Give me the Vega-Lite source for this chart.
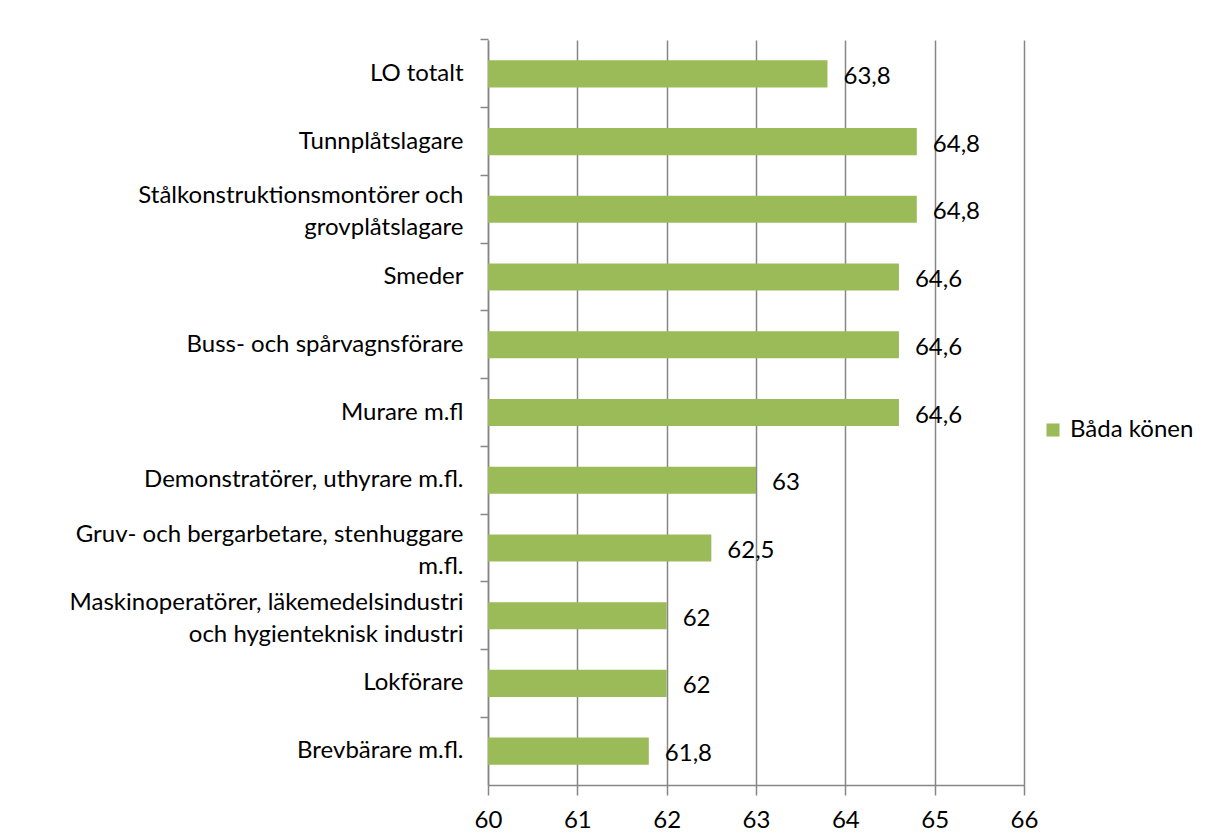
{
  "$schema": "https://vega.github.io/schema/vega-lite/v6.json",
  "width": 536,
  "height": 745,
  "autosize": {"type": "none"},
  "padding": {"left": 488, "top": 40, "right": 185, "bottom": 51},
  "background": "white",
  "config": {
    "view": {"stroke": null},
    "font": "Lato",
    "locale": {"number": {"decimal": ",", "thousands": " ", "grouping": [3], "currency": ["", " kr"]}}
  },
  "data": {
    "values": [
      {"yrke": "LO totalt", "varde": 63.8, "serie": "Båda könen"},
      {"yrke": "Tunnplåtslagare", "varde": 64.8, "serie": "Båda könen"},
      {"yrke": "Stålkonstruktionsmontörer och grovplåtslagare", "varde": 64.8, "serie": "Båda könen"},
      {"yrke": "Smeder", "varde": 64.6, "serie": "Båda könen"},
      {"yrke": "Buss- och spårvagnsförare", "varde": 64.6, "serie": "Båda könen"},
      {"yrke": "Murare m.fl", "varde": 64.6, "serie": "Båda könen"},
      {"yrke": "Demonstratörer, uthyrare m.fl.", "varde": 63, "serie": "Båda könen"},
      {"yrke": "Gruv- och bergarbetare, stenhuggare m.fl.", "varde": 62.5, "serie": "Båda könen"},
      {"yrke": "Maskinoperatörer, läkemedelsindustri och hygienteknisk industri", "varde": 62, "serie": "Båda könen"},
      {"yrke": "Lokförare", "varde": 62, "serie": "Båda könen"},
      {"yrke": "Brevbärare m.fl.", "varde": 61.8, "serie": "Båda könen"}
    ]
  },
  "layer": [
    {
      "mark": {"type": "bar", "height": {"band": 0.4}},
      "encoding": {
        "x": {
          "field": "varde",
          "type": "quantitative",
          "scale": {"domain": [60, 66], "zero": false, "nice": false},
          "axis": {
            "title": null,
            "values": [60, 61, 62, 63, 64, 65, 66],
            "format": "d",
            "grid": true,
            "gridColor": "#868686",
            "gridWidth": 1.5,
            "domainColor": "#868686",
            "domainWidth": 1.5,
            "tickColor": "#868686",
            "tickWidth": 1.5,
            "tickSize": 10,
            "labelFlush": false,
            "labelPadding": 13,
            "labelFontSize": 24,
            "labelColor": "#000000",
            "labelFont": "Lato"
          }
        },
        "x2": {"datum": 60},
        "y": {
          "field": "yrke",
          "type": "nominal",
          "sort": null,
          "scale": {"paddingInner": 0, "paddingOuter": 0},
          "axis": {
            "title": null,
            "bandPosition": 0,
            "labelOffset": {
              "condition": {
                "test": "datum.value == 'Stålkonstruktionsmontörer och grovplåtslagare' || datum.value == 'Gruv- och bergarbetare, stenhuggare m.fl.' || datum.value == 'Maskinoperatörer, läkemedelsindustri och hygienteknisk industri'",
                "value": -13
              },
              "value": 0
            },
            "domainColor": "#868686",
            "domainWidth": 1.5,
            "tickColor": "#868686",
            "tickWidth": 1.5,
            "tickSize": 8,
            "labelPadding": 17,
            "labelFontSize": 24,
            "labelColor": "#000000",
            "labelFont": "Lato",
            "labelLimit": 480,
            "labelLineHeight": 32,
            "labelExpr": "datum.label == 'Stålkonstruktionsmontörer och grovplåtslagare' ? ['Stålkonstruktionsmontörer och', 'grovplåtslagare'] : datum.label == 'Gruv- och bergarbetare, stenhuggare m.fl.' ? ['Gruv- och bergarbetare, stenhuggare', 'm.fl.'] : datum.label == 'Maskinoperatörer, läkemedelsindustri och hygienteknisk industri' ? ['Maskinoperatörer, läkemedelsindustri', 'och hygienteknisk industri'] : datum.label"
          }
        },
        "color": {
          "field": "serie",
          "type": "nominal",
          "scale": {"range": ["#9BBB59"]},
          "legend": {
            "title": null,
            "orient": "none",
            "legendX": 553,
            "legendY": 378,
            "symbolType": "square",
            "symbolSize": 170,
            "symbolStrokeWidth": 0,
            "labelFontSize": 24,
            "labelColor": "#000000",
            "labelFont": "Lato",
            "labelOffset": 5
          }
        }
      }
    },
    {
      "mark": {"type": "text", "align": "left", "baseline": "middle", "dx": 16, "dy": 3, "fontSize": 24, "font": "Lato", "color": "#000000"},
      "encoding": {
        "x": {"field": "varde", "type": "quantitative"},
        "y": {"field": "yrke", "type": "nominal", "sort": null},
        "text": {"field": "varde", "type": "quantitative"}
      }
    }
  ]
}
